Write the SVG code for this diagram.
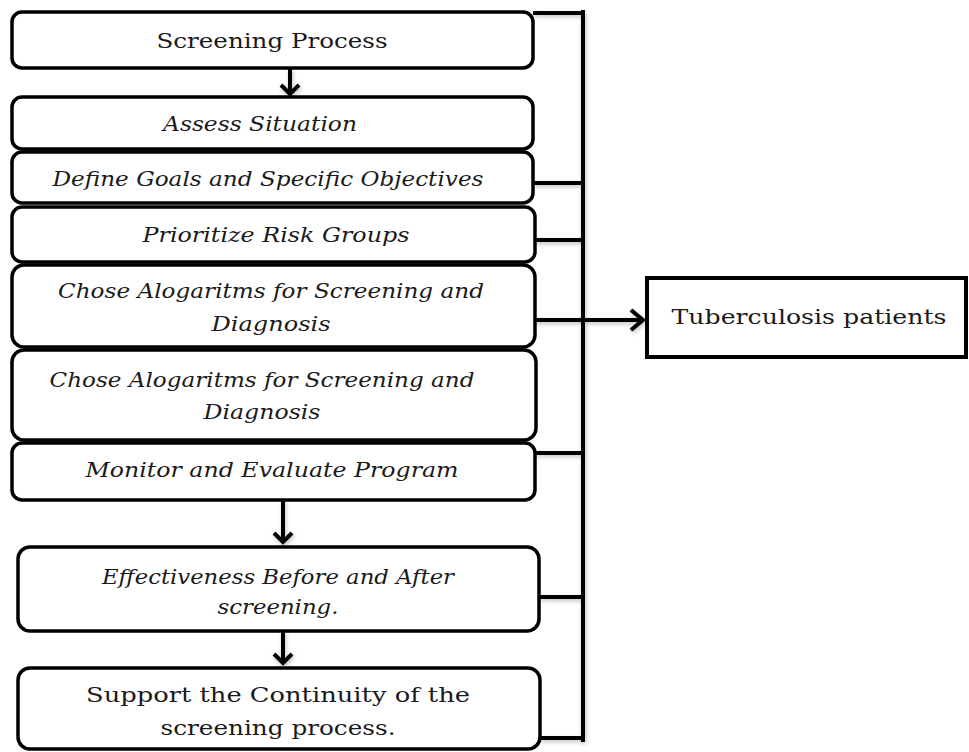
<svg xmlns="http://www.w3.org/2000/svg" width="969" height="752" viewBox="0 0 969 752">
<style>
.box{fill:#fff;stroke:#000;stroke-width:3.5}
.tb{fill:#fff;stroke:#000;stroke-width:4}
.it{font-family:"DejaVu Serif","Liberation Serif",serif;font-style:italic;font-size:21px;fill:#1a1a1a;text-anchor:middle}
.up{font-family:"DejaVu Serif","Liberation Serif",serif;font-size:21px;fill:#1a1a1a;text-anchor:middle}
.ln{fill:none;stroke:#000;stroke-width:4}
.ah{fill:none;stroke:#000;stroke-width:4;stroke-linejoin:miter}
</style>
<defs>
<filter id="sh" x="-10%" y="-10%" width="120%" height="120%">
<feDropShadow dx="1" dy="2" stdDeviation="2" flood-color="#000" flood-opacity="0.25"/>
</filter>
</defs>
<g id="connectors" filter="url(#sh)">
<line class="ln" x1="583" y1="10" x2="583" y2="742"/>
<line class="ln" x1="533" y1="13" x2="583" y2="13"/>
<line class="ln" x1="533" y1="183" x2="583" y2="183"/>
<line class="ln" x1="535" y1="240" x2="583" y2="240"/>
<line class="ln" x1="535" y1="320" x2="644" y2="320"/>
<polyline class="ah" points="631,310 643,320 631,330"/>
<line class="ln" x1="535" y1="453" x2="583" y2="453"/>
<line class="ln" x1="539" y1="597" x2="583" y2="597"/>
<line class="ln" x1="540" y1="738" x2="583" y2="738"/>
<line class="ln" x1="290" y1="68" x2="290" y2="94"/>
<polyline class="ah" points="281,85 290,94 299,85"/>
<line class="ln" x1="283" y1="500" x2="283" y2="542"/>
<polyline class="ah" points="274,533 283,542 292,533"/>
<line class="ln" x1="283" y1="631" x2="283" y2="663"/>
<polyline class="ah" points="274,654 283,663 292,654"/>
</g>
<g id="n1"><rect class="box" x="12" y="12" width="521" height="56" rx="10"/><text class="up" x="272" y="48" textLength="231" lengthAdjust="spacingAndGlyphs">Screening Process</text></g>
<g id="n2"><rect class="box" x="12" y="97" width="521" height="52" rx="10"/><text class="it" x="260" y="131" textLength="194" lengthAdjust="spacingAndGlyphs">Assess Situation</text></g>
<g id="n3"><rect class="box" x="12" y="152" width="521" height="51" rx="10"/><text class="it" x="268" y="186" textLength="431" lengthAdjust="spacingAndGlyphs">Define Goals and Specific Objectives</text></g>
<g id="n4"><rect class="box" x="12" y="207" width="523" height="55" rx="10"/><text class="it" x="276" y="242" textLength="267" lengthAdjust="spacingAndGlyphs">Prioritize Risk Groups</text></g>
<g id="n5"><rect class="box" x="12" y="265" width="523" height="82" rx="12"/><text class="it" x="271" y="298" textLength="426" lengthAdjust="spacingAndGlyphs">Chose Alogaritms for Screening and</text><text class="it" x="271" y="331" textLength="119" lengthAdjust="spacingAndGlyphs">Diagnosis</text></g>
<g id="n6"><rect class="box" x="12" y="350" width="524" height="90" rx="12"/><text class="it" x="262" y="387" textLength="425" lengthAdjust="spacingAndGlyphs">Chose Alogaritms for Screening and</text><text class="it" x="262" y="419" textLength="117" lengthAdjust="spacingAndGlyphs">Diagnosis</text></g>
<g id="n7"><rect class="box" x="12" y="443" width="523" height="57" rx="10"/><text class="it" x="272" y="477" textLength="373" lengthAdjust="spacingAndGlyphs">Monitor and Evaluate Program</text></g>
<g id="n8"><rect class="box" x="18" y="547" width="521" height="84" rx="12"/><text class="it" x="278" y="584" textLength="352" lengthAdjust="spacingAndGlyphs">Effectiveness Before and After</text><text class="it" x="278" y="614" textLength="121" lengthAdjust="spacingAndGlyphs">screening.</text></g>
<g id="n9"><rect class="box" x="18" y="668" width="522" height="81" rx="12"/><text class="up" x="278" y="702" textLength="384" lengthAdjust="spacingAndGlyphs">Support the Continuity of the</text><text class="up" x="278" y="735" textLength="235" lengthAdjust="spacingAndGlyphs">screening process.</text></g>
<g id="n10"><rect class="tb" x="647" y="278" width="319" height="79"/><text class="up" x="809" y="324" textLength="275" lengthAdjust="spacingAndGlyphs">Tuberculosis patients</text></g>
</svg>
